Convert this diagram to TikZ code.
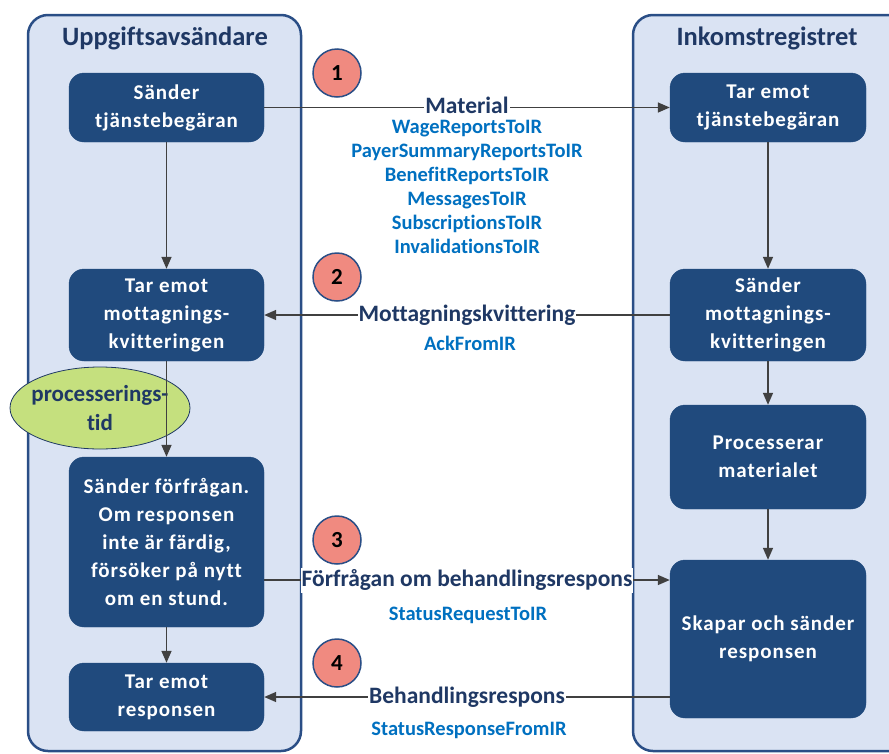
\documentclass[tikz,border=0pt]{standalone}
\usepackage{fontspec}
\setmainfont{Carlito}[Ligatures={NoCommon}]
\newfontfamily\boxfont{Carlito}[Ligatures={NoCommon}, LetterSpace=4.5]
\usetikzlibrary{arrows.meta,calc,shapes.geometric}
\definecolor{lanefill}{HTML}{DAE3F3}
\definecolor{laneborder}{HTML}{2A4E86}
\definecolor{boxfill}{HTML}{204A7D}
\definecolor{labeltext}{HTML}{1F3864}
\definecolor{bluetext}{HTML}{0070C0}
\definecolor{ellfill}{HTML}{C5E07E}
\definecolor{circfill}{HTML}{F08A80}
\definecolor{linecol}{HTML}{404040}
\tikzset{
  lane/.style={draw=laneborder, line width=2.5pt, fill=lanefill, rounded corners=20pt},
  lanetitle/.style={text=labeltext, font=\fontsize{26.5}{30}\selectfont\bfseries},
  procbox/.style={fill=boxfill, draw=boxfill, rounded corners=15pt, text=white, align=center,
    font=\boxfont\fontsize{21}{28}\selectfont\bfseries, inner sep=0pt},
  arr/.style={draw=linecol, line width=1.5pt, -{Triangle[length=12pt,width=10pt]}},
  msg/.style={fill=white, text=labeltext, inner xsep=1pt, inner ysep=2pt,
    font=\fontsize{23.5}{26}\selectfont\bfseries},
  sub/.style={text=bluetext, align=center, font=\fontsize{20.5}{24}\selectfont\bfseries},
  numcirc/.style={circle, fill=circfill, draw=laneborder, line width=1.5pt, minimum size=48pt,
    inner sep=0pt, font=\fontsize{23}{24}\selectfont\bfseries},
  timeell/.style={ellipse, fill=ellfill, draw=labeltext, line width=0.8pt, minimum width=180pt,
    minimum height=82pt, inner sep=0pt},
  elltext/.style={align=center, text=labeltext, inner sep=0pt,
    font=\fontsize{23}{29}\selectfont\bfseries}
}
\begin{document}
\begin{tikzpicture}[x=1pt,y=-1pt]
\useasboundingbox (0,0) rectangle (889,753);
\begin{scope}
\clip (0,0) rectangle (889,753);
\draw[lane] (28,15) rectangle (301,751);
\draw[lane] (633,15) rectangle (915,751);
\end{scope}
\node[lanetitle] (tl) at (165,38) {Uppgiftsavsändare};
\node[lanetitle] (tr) at (767,38) {Inkomstregistret};

% left column
\node[procbox, minimum width=195pt, minimum height=69pt] (L1) at (166.5,107.5) {Sänder\\tjänstebegäran};
\node[procbox, minimum width=195pt, minimum height=92pt] (L2) at (166.5,315) {Tar emot\\mottagnings-\\kvitteringen};
\node[procbox, minimum width=195pt, minimum height=170pt] (L3) at (166.5,542) {Sänder förfrågan.\\Om responsen\\inte är färdig,\\försöker på nytt\\om en stund.};
\node[procbox, minimum width=195pt, minimum height=68pt] (L4) at (166.5,697) {Tar emot\\responsen};

% right column
\node[procbox, minimum width=196pt, minimum height=69pt] (R1) at (768,107.5) {Tar emot\\tjänstebegäran};
\node[procbox, minimum width=196pt, minimum height=92pt] (R2) at (768,315) {Sänder\\mottagnings-\\kvitteringen};
\node[procbox, minimum width=196pt, minimum height=104pt] (R3) at (768,457) {Processerar\\materialet};
\node[procbox, minimum width=196pt, minimum height=158pt] (R4) at (768,639) {Skapar och sänder\\responsen};

% ellipse
\node[timeell] (E) at (100,408) {};
\node[elltext] (Et) at (E.center) {processerings-\\tid};

% vertical arrows
\draw[arr] (L1.south) -- (L2.north);
\draw[arr] (L2.south) -- (L3.north);
\draw[arr] (L3.south) -- (L4.north);
\draw[arr] (R1.south) -- (R2.north);
\draw[arr] (R2.south) -- (R3.north);
\draw[arr] (R3.south) -- (R4.north);

% messages
\draw[arr] (L1.east) -- node[msg, yshift=2pt] (m1) {Material} (R1.west);
\node[sub, anchor=north] (s1) at ($(m1.south)+(0,0)$) {WageReportsToIR\\PayerSummaryReportsToIR\\BenefitReportsToIR\\MessagesToIR\\SubscriptionsToIR\\InvalidationsToIR};

\draw[arr] (R2.west) -- node[msg] (m2) {Mottagningskvittering} (L2.east);
\node[sub] (s2) at ($(m2)+(3,28)$) {AckFromIR};

\coordinate (a3) at ($(L3.east)+(0,38)$);
\draw[arr] (a3) -- node[msg] (m3) {Förfrågan om behandlingsrespons} (a3 -| R4.west);
\node[sub] (s3) at ($(m3)+(1,35)$) {StatusRequestToIR};

\draw[arr] (L4.east -| R4.west) -- node[msg] (m4) {Behandlingsrespons} (L4.east);
\node[sub] (s4) at ($(m4)+(2,33)$) {StatusResponseFromIR};

% numbered circles
\node[numcirc] (c1) at (337,73) {1};
\node[numcirc] (c2) at (337,277) {2};
\node[numcirc] (c3) at (337,540) {3};
\node[numcirc] (c4) at (337,663) {4};
\end{tikzpicture}
\end{document}
